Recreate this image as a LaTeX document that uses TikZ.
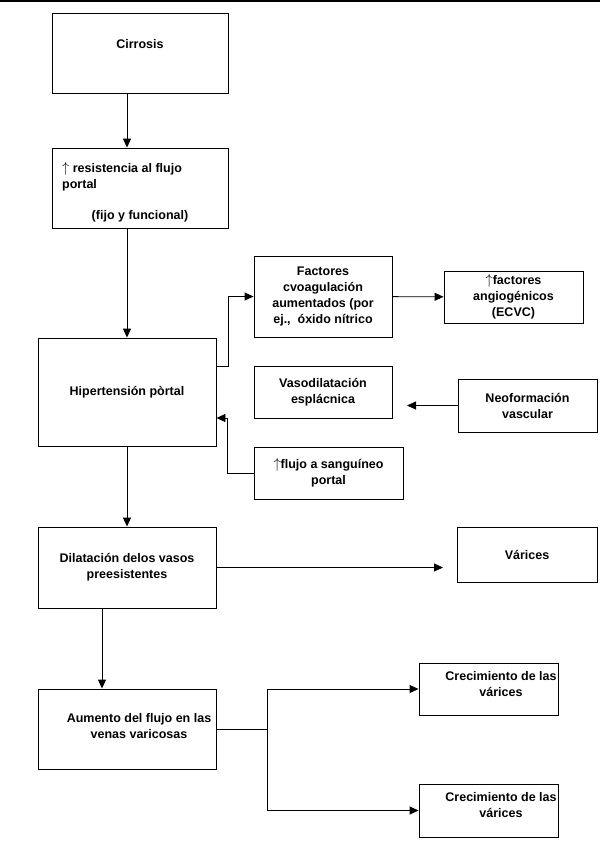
\documentclass[tikz,border=0pt]{standalone}
\usepackage{fontspec}
\setmainfont{Liberation Sans}
\usetikzlibrary{arrows.meta}
\newcommand{\lblfont}{\fontsize{12.5}{16}\selectfont\bfseries}
\newcommand{\uparr}{{\fontsize{15}{15}\selectfont$\uparrow$}}
\begin{document}
\begin{tikzpicture}[x=1pt,y=-1pt,
    box/.style = {draw,line width=0.9pt,inner sep=0pt,align=center,font=\lblfont},
    txt/.style = {inner sep=0pt,align=center,font=\lblfont},
    arrow/.style = {line width=0.9pt,-{Triangle[length=9pt,width=8pt]}}]
                \useasboundingbox (0,0) rectangle (600,843);
                \draw[line width=1.6pt] (0,0.8) -- (600,0.8);

                % left column
                \node[box,minimum width=176pt,minimum height=80pt] (cirrosis) at (140,53) {};
                \node[txt] (cirrosistxt) at (140,44) {Cirrosis};
                \node[box,minimum width=176pt,minimum height=80pt] (resist) at (140,188) {};
                \node[txt,anchor=west,align=left] (resisttxt) at (62,177)
                    {\uparr\ resistencia al flujo\\portal};
                \node[txt] (resisttxt2) at (140,216) {(fijo y funcional)};
                \node[box,minimum width=178pt,minimum height=108pt] (hiper) at (127,392)
                    {Hipertensión pòrtal};
                \node[box,minimum width=178pt,minimum height=81pt] (dilat) at (127,567.5)
                    {Dilatación delos vasos\\preesistentes};
                \node[box,minimum width=178pt,minimum height=80pt] (aumento) at (127,729) {};
                \node[txt] (aumentotxt) at (139,726)
                    {Aumento del flujo en las\\venas varicosas};

                % right column
                \node[box,minimum width=138pt,minimum height=81pt] (factores) at (323,296.5)
                    {Factores\\cvoagulación\\aumentados (por\\ej.,\ \ óxido nítrico};
                \node[box,minimum width=139pt,minimum height=52pt] (angio) at (513.5,297)
                    {\uparr factores\\angiogénicos\\(ECVC)};
                \node[box,minimum width=138pt,minimum height=52pt] (vaso) at (323,392)
                    {Vasodilatación\\esplácnica};
                \node[box,minimum width=139pt,minimum height=53pt] (neo) at (527.5,405.5)
                    {Neoformación\\vascular};
                \node[box,minimum width=149pt,minimum height=52pt] (flujo) at (328.5,473)
                    {\uparr flujo a sanguíneo\\portal};
                \node[box,minimum width=140pt,minimum height=55pt] (varices) at (527,554.5)
                    {Várices};
                \node[box,minimum width=139pt,minimum height=52pt] (crecA) at (488.5,689) {};
                \node[txt] (crecAtxt) at (501,684) {Crecimiento de las\\várices};
                \node[box,minimum width=139pt,minimum height=53pt] (crecB) at (488.5,810.5) {};
                \node[txt] (crecBtxt) at (501,805) {Crecimiento de las\\várices};

                \coordinate (neoend) at (407,405.5);
                \coordinate (varend) at (443,567.5);

                % connectors
                \draw[arrow] (cirrosis.south -| hiper) -- (resist.north -| hiper);
                \draw[arrow] (resist.south -| hiper) -- (hiper.north);
                \draw[arrow] (hiper) -- (dilat);
                \draw[arrow] ([xshift=-25pt]dilat.south) -- ([xshift=-25pt]aumento.north);
                \draw[arrow] ([yshift=26pt]hiper.east) -- ++(12,0) |- (factores.west);
                \draw[arrow] (factores) -- (angio);
                \draw[arrow] (neo.west) -- (neoend);
                \draw[arrow] (flujo.west) -- ++(-26,0) |- ([yshift=-26pt]hiper.east);
                \draw[arrow] (dilat.east) -- (varend);
                \draw[line width=0.9pt] (aumento.east) -- ++(51,0) coordinate (fork);
                \draw[arrow] (fork) |- (crecA.west);
                \draw[arrow] (fork) |- (crecB.west);
            \end{tikzpicture}
\end{document}
